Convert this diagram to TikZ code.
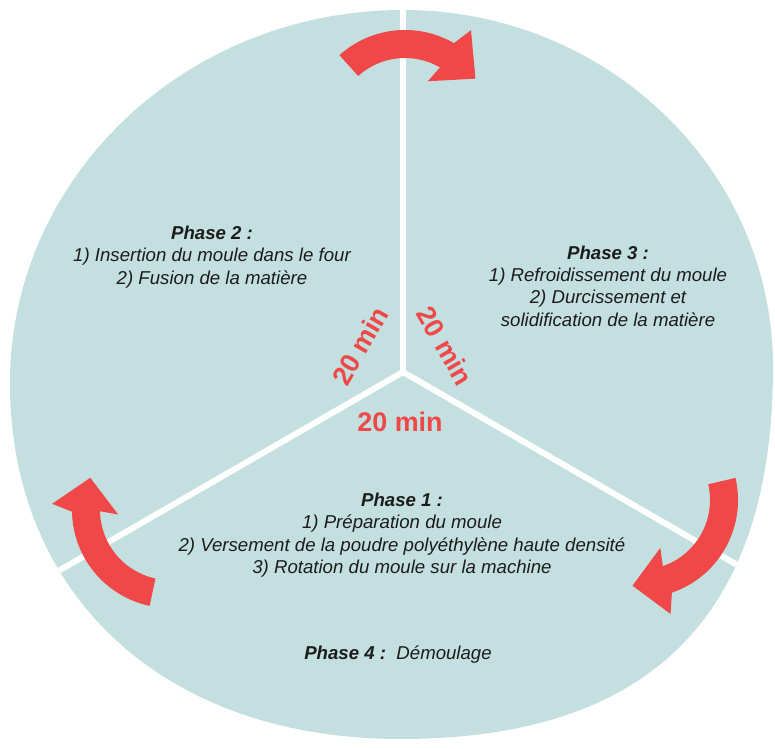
\documentclass[tikz,border=0pt]{standalone}
\usepackage{fontspec}
\setmainfont{Liberation Sans}
\usepackage{tikz}
\usetikzlibrary{positioning}
\definecolor{discblue}{RGB}{196,223,223}
\definecolor{arrowred}{RGB}{240,72,72}
\definecolor{textgray}{RGB}{28,28,28}
\tikzset{phase/.style={align=center,text=textgray,font=\fontsize{18.7}{22.5}\selectfont\itshape}}
\tikzset{duration/.style={text=arrowred,font=\fontsize{27}{27}\selectfont\bfseries}}
\newcommand{\phasehead}[1]{\textbf{Phase #1 :}}
% curved arrow: centre, start angle, end angle, tip angle
\newcommand{\turnarrow}[4]{%
  \begin{scope}[shift={#1}]
    \fill[arrowred] (#2:98) arc[start angle=#2, end angle=#3, radius=98]
      -- ({#3-4}:118) -- (#4:86) -- ({#3+4}:52) -- (#3:70)
      arc[start angle=#3, end angle=#2, radius=70] -- cycle;
  \end{scope}}

\begin{document}
\begin{tikzpicture}[
		x = 1bp, y = 1bp, % one unit per pixel
		line join = round, % corner style
		]
		
		\useasboundingbox (0,0) rectangle (775,749);
		\coordinate (mid) at (403,377);
		
		% Disc and dividers
		\begin{scope}
		\clip (403,739) .. controls (186,739) and (10,572) .. (10,366)
			.. controls (10,152) and (166,10) .. (400,10)
			.. controls (650,10) and (773,133) .. (773,382)
			.. controls (773,579) and (607,739) .. (403,739) -- cycle;
		\fill[discblue] (0,0) rectangle (775,749);
		\foreach \a in {90,210,330}
			\draw[white, line width=6] (mid) -- ++(\a:460);
		\end{scope}
		
		% Arrows
		\turnarrow{(405,621)}{132}{60}{35}
		\turnarrow{(640,249)}{13}{-71}{-95}
		\turnarrow{(170,239)}{258}{181}{158}
		
		% Durations
		\node[duration, rotate=60] (dur2) at (360,403) {20 min};
		\node[duration, rotate=-60] (dur3) at (445,403) {20 min};
		\node[duration] (dur1) at (400,327) {20 min};
		
		% Phases
		\node[phase] (ph2) at (212,492) {\phasehead{2}\\
			1) Insertion du moule dans le four\\
			2) Fusion de la matière};
		\node[phase] (ph3) at (608,463) {\phasehead{3}\\
			1) Refroidissement du moule\\
			2) Durcissement et\\
			solidification de la matière};
		\node[phase] (ph1) at (402,214) {\phasehead{1}\\
			1) Préparation du moule\\
			2) Versement de la poudre polyéthylène haute densité\\
			3) Rotation du moule sur la machine};
		\node[phase] (ph4) at (398,94) {\phasehead{4}\ \ Démoulage};
		\end{tikzpicture}
\end{document}
